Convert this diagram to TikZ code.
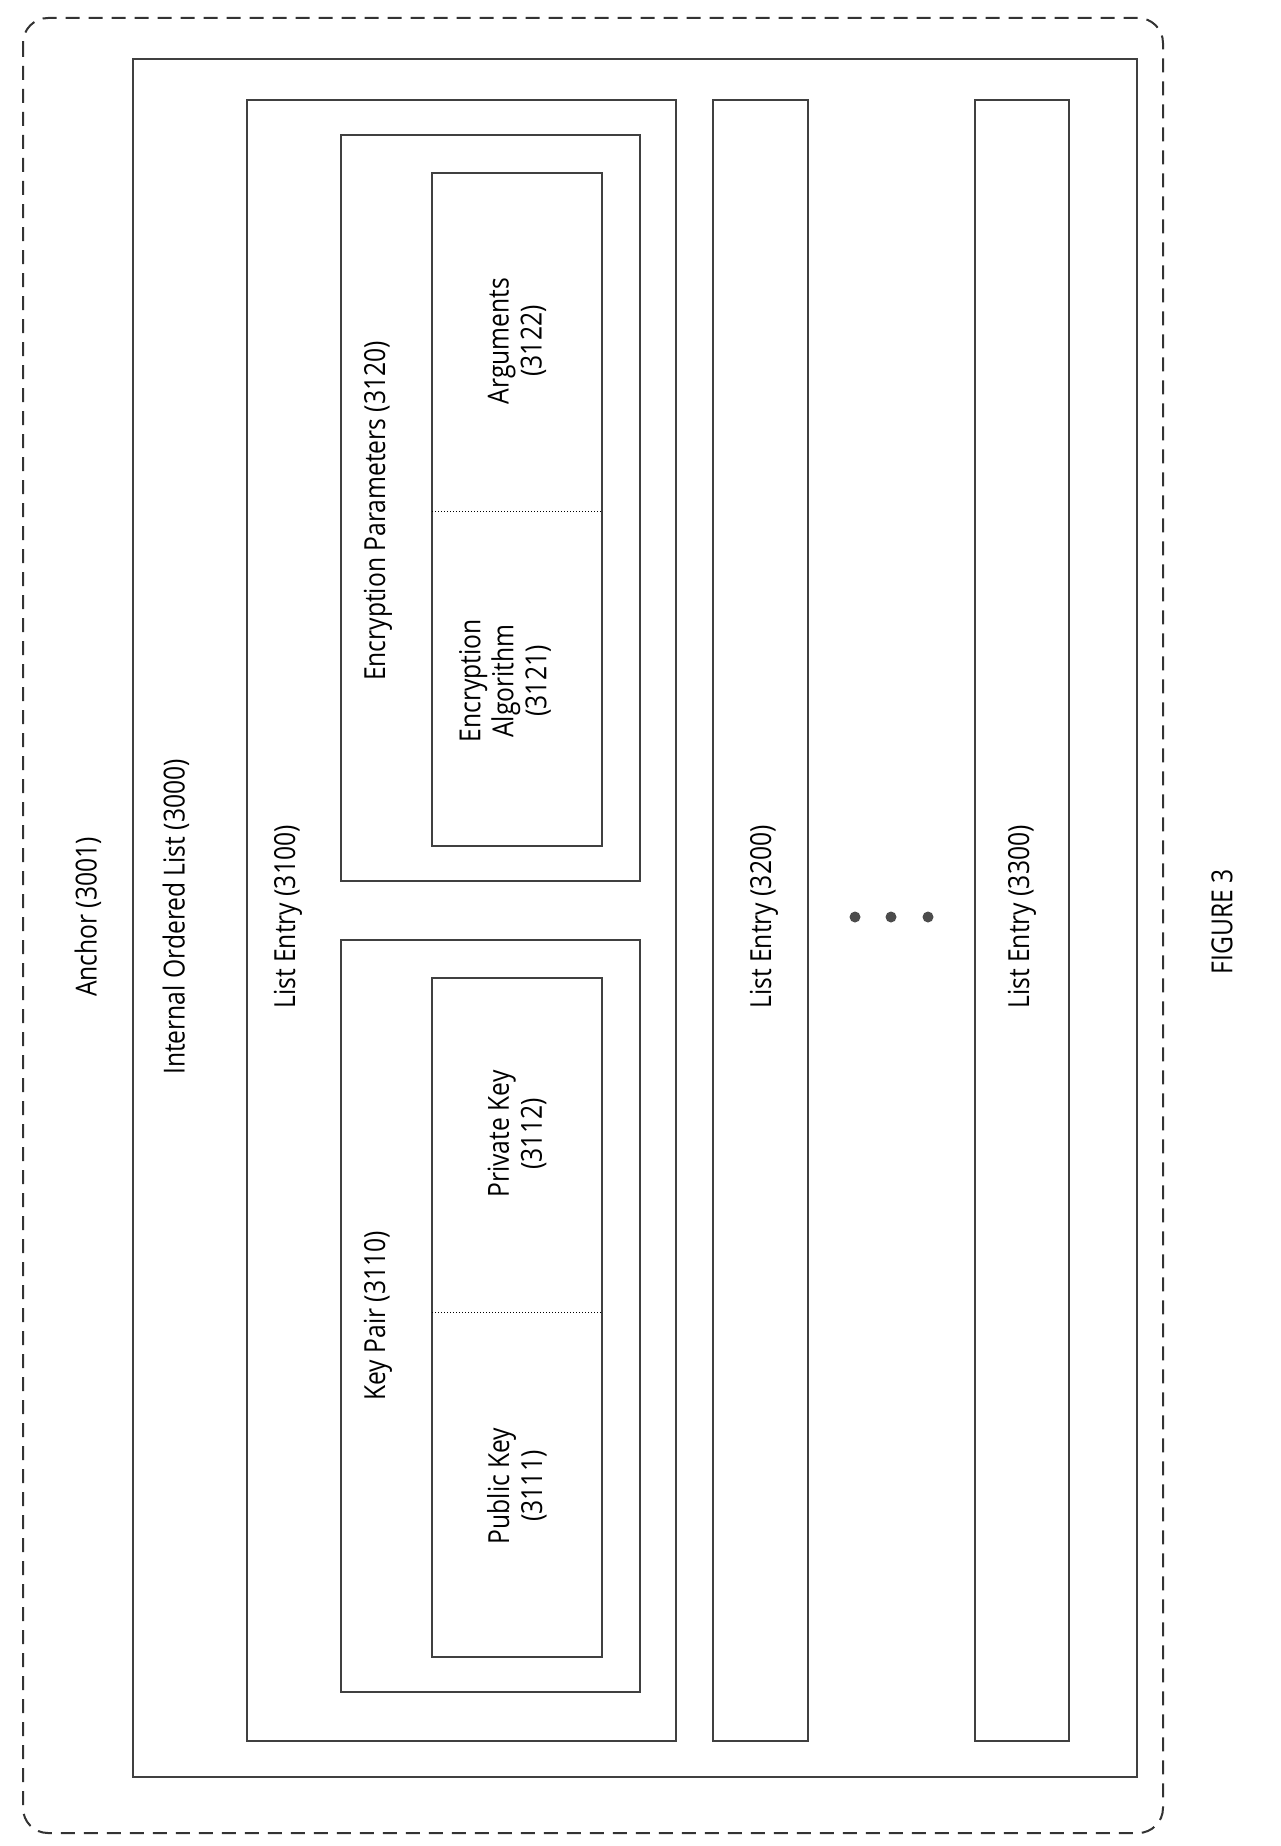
\documentclass[tikz,border=0pt]{standalone}
\usepackage{fontspec}
\setmainfont{Open Sans}
\begin{document}
\begin{tikzpicture}[x=1pt,y=-1pt,
  bx/.style={draw,line width=2.2pt,black!75},
  lbl/.style={rotate=90,font=\fontsize{29}{33}\selectfont\addfontfeature{FakeStretch=0.85},align=center,inner sep=0pt},
  dot/.style={circle,fill=black!70,minimum size=11pt,inner sep=0pt}]
\useasboundingbox (0,0) rectangle (1281,1846);
\draw[line width=2pt,dashed,dash pattern=on 14pt off 9pt,rounded corners=25pt,black!80] (23,18) rectangle (1163,1833);
\draw[bx] (133,59) rectangle (1137,1777);
\draw[bx] (247,100) rectangle (676,1741);
\draw[bx] (341,135) rectangle (640,881);
\draw[bx] (432,173) rectangle (602,846);
\draw[dotted,line width=1pt] (432,511) -- (602,511);
\draw[bx] (341,940) rectangle (640,1692);
\draw[bx] (432,978) rectangle (602,1657);
\draw[dotted,line width=1pt] (432,1312) -- (602,1312);
\draw[bx] (713,100) rectangle (808,1741);
\draw[bx] (975,100) rectangle (1069,1741);
\node[dot] (d1) at (855,917) {};
\node[dot] (d2) at (891,917) {};
\node[dot] (d3) at (928,917) {};
\node[lbl] (a) at (88,917) {Anchor (3001)};
\node[lbl] (il) at (176,917) {Internal Ordered List (3000)};
\node[lbl] (le1) at (288,917) {List Entry (3100)};
\node[lbl] (kp) at (378,1316) {Key Pair (3110)};
\node[lbl] (ep) at (378,511) {Encryption Parameters (3120)};
\node[lbl] (pk) at (517,1486) {Public Key\\(3111)};
\node[lbl] (sk) at (517,1134) {Private Key\\(3112)};
\node[lbl] (ea) at (505,681) {Encryption\\Algorithm\\(3121)};
\node[lbl] (ar) at (517,341) {Arguments\\(3122)};
\node[lbl] (le2) at (764,917) {List Entry (3200)};
\node[lbl] (le3) at (1022,917) {List Entry (3300)};
\node[lbl] (fig) at (1222,922) {FIGURE 3};
\end{tikzpicture}
\end{document}
